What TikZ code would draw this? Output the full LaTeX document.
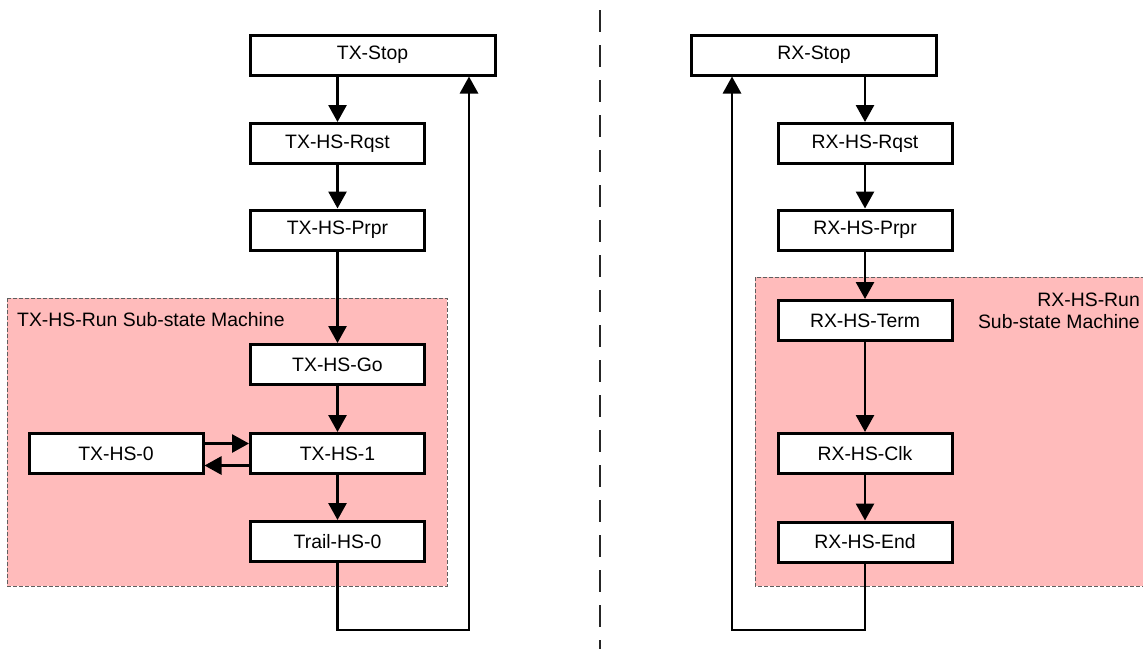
\documentclass[tikz,border=0pt]{standalone}
\usepackage{fontspec}
\setmainfont{Liberation Sans}
\usetikzlibrary{arrows.meta}
\definecolor{pinkbg}{RGB}{255,187,187}
\definecolor{bordergray}{RGB}{95,95,95}
\begin{document}
\begin{tikzpicture}[x=1pt,y=-1pt,
  statebox/.style={draw, line width=3pt, fill=white, minimum width=174pt,
    minimum height=40pt, inner sep=0pt, font=\fontsize{19.4}{23}\selectfont},
  widebox/.style={statebox, minimum width=245pt},
  conn/.style={line width=2.8pt, -{Triangle[width=18pt,length=17pt]}},
  wire/.style={line width=2.8pt},
  region/.style={fill=pinkbg, draw=bordergray, line width=1pt, dash pattern=on 4pt off 2pt},
  lbl/.style={font=\fontsize{19.4}{23}\selectfont, inner sep=0pt}]
\useasboundingbox (0,0) rectangle (1143,649);
\clip (0,0) rectangle (1143,649);
% sub-state regions
\draw[region] (7,298) rectangle (447,586);
\draw[region] (755,277) rectangle (1160,586);
\node[lbl, anchor=base west] (txlbl) at (17,326) {TX-HS-Run Sub-state Machine};
\node[lbl, anchor=base east] (rxlbl1) at (1140,306) {RX-HS-Run};
\node[lbl, anchor=base east] (rxlbl2) at (1140,328) {Sub-state Machine};
% divider
\draw[line width=2pt, black!85, dash pattern=on 22pt off 13pt] (600,10) -- (600,649);
% TX states
\node[widebox] (txstop) at (372.5,55) {TX-Stop};
\node[statebox] (txrqst) at (337.5,143.5) {TX-HS-Rqst};
\node[statebox] (txprpr) at (337.5,230) {TX-HS-Prpr};
\node[statebox] (txgo) at (337.5,364.5) {TX-HS-Go};
\node[statebox] (tx1) at (337.5,453.5) {TX-HS-1};
\node[statebox] (tx0) at (116,453.5) {TX-HS-0};
\node[statebox] (trail) at (337.5,541.5) {Trail-HS-0};
% RX states
\node[widebox] (rxstop) at (814,55) {RX-Stop};
\node[statebox] (rxrqst) at (865,143.5) {RX-HS-Rqst};
\node[statebox] (rxprpr) at (865,230) {RX-HS-Prpr};
\node[statebox] (rxterm) at (865,320.5) {RX-HS-Term};
\node[statebox] (rxclk) at (865,453.5) {RX-HS-Clk};
\node[statebox] (rxend) at (865,542) {RX-HS-End};
% TX connectors
\draw[conn] (txstop.south -| txrqst) -- (txrqst.north);
\draw[conn] (txrqst) -- (txprpr);
\draw[conn] (txprpr) -- (txgo);
\draw[conn] (txgo) -- (tx1);
\draw[conn] (tx1) -- (trail);
\draw[conn] ([yshift=10pt]tx0.east) -- ([yshift=10pt]tx1.west);
\draw[conn] ([yshift=-12pt]tx1.west) -- ([yshift=-12pt]tx0.east);
\coordinate (tl) at (337.5,630);
\coordinate (tr) at (469,630);
\draw[conn] (trail.south) -- (tl) -- (tr) -- (tr |- txstop.south);
% RX connectors
\draw[conn] (rxstop.south -| rxrqst) -- (rxrqst.north);
\draw[conn] (rxrqst) -- (rxprpr);
\draw[conn] (rxprpr) -- (rxterm);
\draw[conn] (rxterm) -- (rxclk);
\draw[conn] (rxclk) -- (rxend);
\coordinate (rr) at (865,630);
\coordinate (rl) at (732,630);
\draw[conn] (rxend.south) -- (rr) -- (rl) -- (rl |- rxstop.south);
\end{tikzpicture}
\end{document}
